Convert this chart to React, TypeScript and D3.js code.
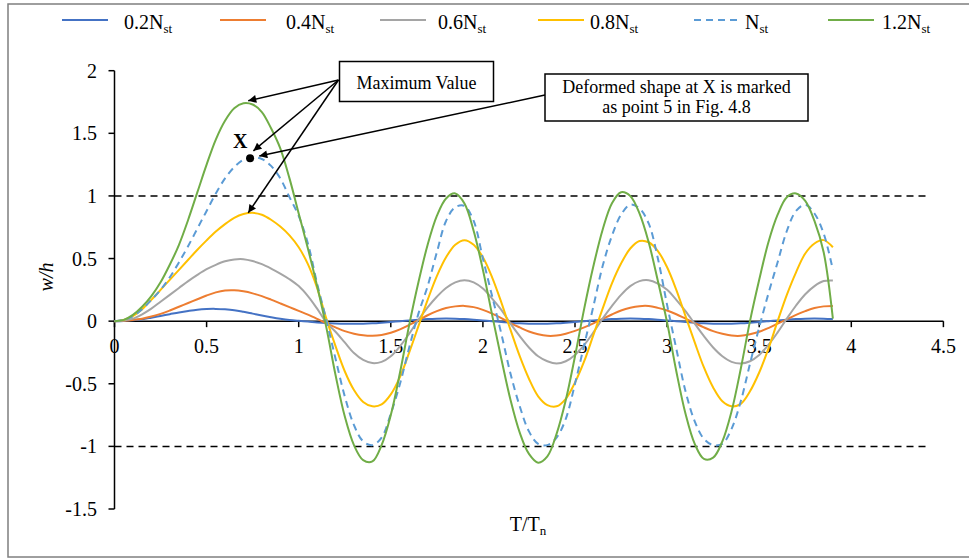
import React from 'react';
import * as d3 from 'd3';

// T/Tn sample points
const tt = [0, 0.05, 0.1, 0.15, 0.2, 0.25, 0.3, 0.35, 0.4, 0.45, 0.5, 0.55, 0.6, 0.65, 0.7, 0.75, 0.8, 0.85, 0.9, 0.95,
  1, 1.05, 1.1, 1.15, 1.2, 1.25, 1.3, 1.35, 1.4, 1.45, 1.5, 1.55, 1.6, 1.65, 1.7, 1.75, 1.8, 1.85, 1.9, 1.95,
  2, 2.05, 2.1, 2.15, 2.2, 2.25, 2.3, 2.35, 2.4, 2.45, 2.5, 2.55, 2.6, 2.65, 2.7, 2.75, 2.8, 2.85, 2.9, 2.95,
  3, 3.05, 3.1, 3.15, 3.2, 3.25, 3.3, 3.35, 3.4, 3.45, 3.5, 3.55, 3.6, 3.65, 3.7, 3.75, 3.8, 3.85, 3.9];

// w/h for each load level
const n02 = [0, 0.002, 0.008, 0.015, 0.028, 0.042, 0.056, 0.07, 0.082, 0.092, 0.097, 0.098, 0.095, 0.088, 0.075, 0.06, 0.045, 0.032, 0.02, 0.01,
  0.003, -0.003, -0.01, -0.015, -0.018, -0.02, -0.02, -0.02, -0.017, -0.012, -0.006, 0, 0.006, 0.012, 0.017, 0.02, 0.021, 0.02, 0.017, 0.012,
  0.006, 0, -0.006, -0.012, -0.017, -0.02, -0.021, -0.02, -0.017, -0.012, -0.006, 0, 0.006, 0.012, 0.017, 0.02, 0.021, 0.02, 0.017, 0.012,
  0.006, 0, -0.006, -0.012, -0.017, -0.02, -0.021, -0.02, -0.017, -0.012, -0.006, 0, 0.006, 0.012, 0.017, 0.02, 0.021, 0.02, 0.017];
const n04 = [0, 0.003, 0.01, 0.02, 0.037, 0.058, 0.085, 0.115, 0.145, 0.175, 0.205, 0.23, 0.245, 0.247, 0.238, 0.222, 0.2, 0.172, 0.142, 0.112,
  0.082, 0.052, 0.018, -0.018, -0.05, -0.08, -0.1, -0.113, -0.117, -0.11, -0.092, -0.065, -0.03, 0.008, 0.047, 0.08, 0.105, 0.118, 0.122, 0.112,
  0.09, 0.06, 0.025, -0.015, -0.05, -0.083, -0.105, -0.117, -0.115, -0.1, -0.078, -0.05, -0.018, 0.018, 0.053, 0.085, 0.107, 0.12, 0.121, 0.106,
  0.085, 0.055, 0.02, -0.015, -0.05, -0.08, -0.1, -0.115, -0.117, -0.105, -0.085, -0.055, -0.02, 0.015, 0.05, 0.08, 0.105, 0.118, 0.121];
const n06 = [0, 0.005, 0.02, 0.055, 0.1, 0.155, 0.21, 0.265, 0.32, 0.37, 0.415, 0.45, 0.478, 0.493, 0.495, 0.48, 0.455, 0.42, 0.38, 0.335,
  0.28, 0.2, 0.1, -0.01, -0.085, -0.17, -0.255, -0.31, -0.335, -0.325, -0.28, -0.2, -0.1, 0.01, 0.11, 0.195, 0.265, 0.31, 0.327, 0.31,
  0.26, 0.18, 0.09, -0.02, -0.12, -0.21, -0.28, -0.32, -0.338, -0.32, -0.27, -0.19, -0.09, 0.02, 0.12, 0.21, 0.28, 0.32, 0.327, 0.3,
  0.25, 0.17, 0.08, -0.02, -0.12, -0.21, -0.28, -0.325, -0.338, -0.32, -0.27, -0.19, -0.09, 0.02, 0.125, 0.215, 0.28, 0.32, 0.325];
const n08 = [0, 0.01, 0.04, 0.095, 0.17, 0.25, 0.33, 0.41, 0.49, 0.57, 0.645, 0.715, 0.775, 0.825, 0.855, 0.865, 0.85, 0.81, 0.755, 0.685,
  0.59, 0.455, 0.265, 0.02, -0.2, -0.4, -0.55, -0.645, -0.68, -0.665, -0.585, -0.445, -0.25, -0.04, 0.17, 0.36, 0.51, 0.61, 0.647, 0.61,
  0.51, 0.35, 0.15, -0.07, -0.28, -0.46, -0.6, -0.67, -0.68, -0.62, -0.49, -0.32, -0.11, 0.1, 0.3, 0.46, 0.58, 0.64, 0.63, 0.56,
  0.43, 0.25, 0.04, -0.17, -0.37, -0.53, -0.64, -0.68, -0.66, -0.56, -0.41, -0.22, 0, 0.21, 0.39, 0.54, 0.62, 0.647, 0.59];
const n10 = [0, 0.01, 0.04, 0.095, 0.17, 0.25, 0.35, 0.47, 0.6, 0.74, 0.88, 1.02, 1.14, 1.23, 1.29, 1.31, 1.295, 1.24, 1.14, 0.99,
  0.84, 0.62, 0.3, 0.01, -0.3, -0.6, -0.83, -0.96, -0.99, -0.93, -0.74, -0.5, -0.21, 0.06, 0.28, 0.55, 0.8, 0.91, 0.92, 0.8,
  0.5, 0.2, -0.1, -0.42, -0.68, -0.88, -0.98, -0.99, -0.93, -0.78, -0.5, -0.19, 0.12, 0.44, 0.68, 0.85, 0.93, 0.9, 0.78, 0.5,
  0.13, -0.22, -0.56, -0.8, -0.94, -0.99, -0.98, -0.86, -0.64, -0.34, -0.05, 0.22, 0.47, 0.72, 0.88, 0.93, 0.86, 0.7, 0.41];
const n12 = [0, 0.01, 0.05, 0.115, 0.2, 0.31, 0.45, 0.61, 0.81, 1.03, 1.25, 1.45, 1.6, 1.7, 1.74, 1.73, 1.67, 1.54, 1.38, 1.14,
  0.86, 0.58, 0.28, -0.05, -0.43, -0.76, -0.99, -1.11, -1.12, -0.99, -0.75, -0.41, -0.03, 0.31, 0.61, 0.84, 0.98, 1.02, 0.94, 0.72,
  0.41, 0.05, -0.3, -0.63, -0.89, -1.06, -1.13, -1.08, -0.9, -0.63, -0.28, 0.1, 0.44, 0.73, 0.94, 1.03, 1, 0.86, 0.63, 0.32,
  -0.01, -0.4, -0.74, -0.98, -1.1, -1.09, -0.96, -0.72, -0.38, 0, 0.33, 0.63, 0.85, 0.99, 1.02, 0.96, 0.8, 0.55, 0.02];

const seriesLabels = ['0.2', '0.4', '0.6', '0.8', '', '1.2'];
const seriesValues = [n02, n04, n06, n08, n10, n12];
const seriesColors = ['#4472C4', '#ED7D31', '#A5A5A5', '#FFC000', '#5B9BD5', '#70AD47'];

const xTicks = [0, 0.5, 1, 1.5, 2, 2.5, 3, 3.5, 4, 4.5];
const yTicks = [-1.5, -1, -0.5, 0, 0.5, 1, 1.5, 2];
const limitLevels = [1, -1];
const limitEnd = 4.41;

// point X on the Nst curve and where the arrows end (data units)
const pointX = { t: 0.736, w: 1.3 };
const maxTargets = [
  { t: 0.726, w: 1.76 },
  { t: 0.754, w: 1.36 },
  { t: 0.726, w: 0.865 },
];
const deformedTarget = { t: 0.786, w: 1.318 };

const W = 969;
const H = 558;
const FONT = "'Liberation Serif', 'Times New Roman', serif";

export default function App() {
  const x = d3.scaleLinear().domain([0, 4.5]).range([114.5, 943.4]);
  const y = d3.scaleLinear().domain([-1.5, 2]).range([509, 70.7]);

  const line = d3.line<[number, number]>()
    .x(d => x(d[0]))
    .y(d => y(d[1]))
    .curve(d3.curveCatmullRom.alpha(0.5));

  const legendX = [62, 220, 380, 538, 694, 828];
  const legendTextX = [124, 286, 438, 590, 745, 882];

  const boxMax = { x: 339.5, y: 61.5, w: 154, h: 40 };
  const boxDef = { x: 545, y: 74, w: 263, h: 47 };
  const startMax = { x: 338.5, y: 80 };
  const startDef = { x: 545, y: 95 };

  return (
    <svg width={W} height={H} style={{ position: 'fixed', left: 0, top: 0, background: '#fff' }}
      fontFamily={FONT}>
      <defs>
        <marker id="ah" viewBox="0 0 10 10" refX="10" refY="5" markerWidth="11" markerHeight="8"
          markerUnits="userSpaceOnUse" orient="auto">
          <path d="M0,0 L10,5 L0,10 z" fill="#000" />
        </marker>
      </defs>
      <rect x={0} y={0} width={W} height={H} fill="#fff" />
      <rect x={8} y={4} width={W + 10} height={553} fill="none" stroke="#7f7f7f" strokeWidth={1.5} />

      {/* legend */}
      {seriesLabels.map((lab, i) => (
        <g key={'lg' + i}>
          <line x1={legendX[i]} x2={legendX[i] + 46} y1={20} y2={20} stroke={seriesColors[i]}
            strokeWidth={2} strokeDasharray={i === 4 ? '7 5' : undefined} />
          <text x={legendTextX[i]} y={29} fontSize={20} fill="#000">
            {lab}N<tspan fontSize={13} dy={4}>st</tspan>
          </text>
        </g>
      ))}

      {/* y axis */}
      <line x1={x(0)} x2={x(0)} y1={y(2)} y2={y(-1.5)} stroke="#000" strokeWidth={1.5} />
      {yTicks.map(v => (
        <g key={'yt' + v}>
          <line x1={x(0) - 6} x2={x(0)} y1={y(v)} y2={y(v)} stroke="#000" strokeWidth={1.5} />
          <text x={97} y={y(v)} dy="0.35em" textAnchor="end" fontSize={20}>{v}</text>
        </g>
      ))}
      <text transform={`translate(53,${277}) rotate(-90)`} textAnchor="middle" fontSize={20} fontStyle="italic">w/h</text>

      {/* x axis at zero */}
      <line x1={x(0)} x2={x(4.5)} y1={y(0)} y2={y(0)} stroke="#000" strokeWidth={1.5} />
      {xTicks.map(v => (
        <g key={'xt' + v}>
          <line x1={x(v)} x2={x(v)} y1={y(0)} y2={y(0) + 6} stroke="#000" strokeWidth={1.5} />
          <text x={x(v)} y={353} textAnchor="middle" fontSize={20}>{v}</text>
        </g>
      ))}
      <text x={528} y={531} textAnchor="middle" fontSize={20}>
        T/T<tspan fontSize={13} dy={4}>n</tspan>
      </text>

      {/* limit lines */}
      {limitLevels.map(v => (
        <line key={'lim' + v} x1={x(0)} x2={x(limitEnd)} y1={y(v)} y2={y(v)}
          stroke="#000" strokeWidth={1.5} strokeDasharray="7 5" />
      ))}

      {/* series */}
      {seriesValues.map((vals, i) => (
        <path key={'s' + i} d={line(tt.map((t, j) => [t, vals[j]] as [number, number])) || ''}
          fill="none" stroke={seriesColors[i]} strokeWidth={2}
          strokeDasharray={i === 4 ? '7 5' : undefined} />
      ))}

      {/* point X */}
      <circle cx={x(pointX.t)} cy={y(pointX.w)} r={4} fill="#000" />
      <text x={233} y={148} fontSize={20} fontWeight="bold">X</text>

      {/* annotations */}
      {maxTargets.map((p, i) => (
        <line key={'ar' + i} x1={startMax.x} y1={startMax.y} x2={x(p.t)} y2={y(p.w)}
          stroke="#000" strokeWidth={1.5} markerEnd="url(#ah)" />
      ))}
      <line x1={startDef.x} y1={startDef.y} x2={x(deformedTarget.t)} y2={y(deformedTarget.w)}
        stroke="#000" strokeWidth={1.5} markerEnd="url(#ah)" />

      <rect x={boxMax.x} y={boxMax.y} width={boxMax.w} height={boxMax.h} fill="#fff" stroke="#000" strokeWidth={1.5} />
      <text x={boxMax.x + boxMax.w / 2} y={89} textAnchor="middle" fontSize={18}>Maximum Value</text>

      <rect x={boxDef.x} y={boxDef.y} width={boxDef.w} height={boxDef.h} fill="#fff" stroke="#000" strokeWidth={1.5} />
      <text x={boxDef.x + boxDef.w / 2} y={93} textAnchor="middle" fontSize={18}>Deformed shape at X is marked</text>
      <text x={boxDef.x + boxDef.w / 2} y={113} textAnchor="middle" fontSize={18}>as point 5 in Fig. 4.8</text>
    </svg>
  );
}
